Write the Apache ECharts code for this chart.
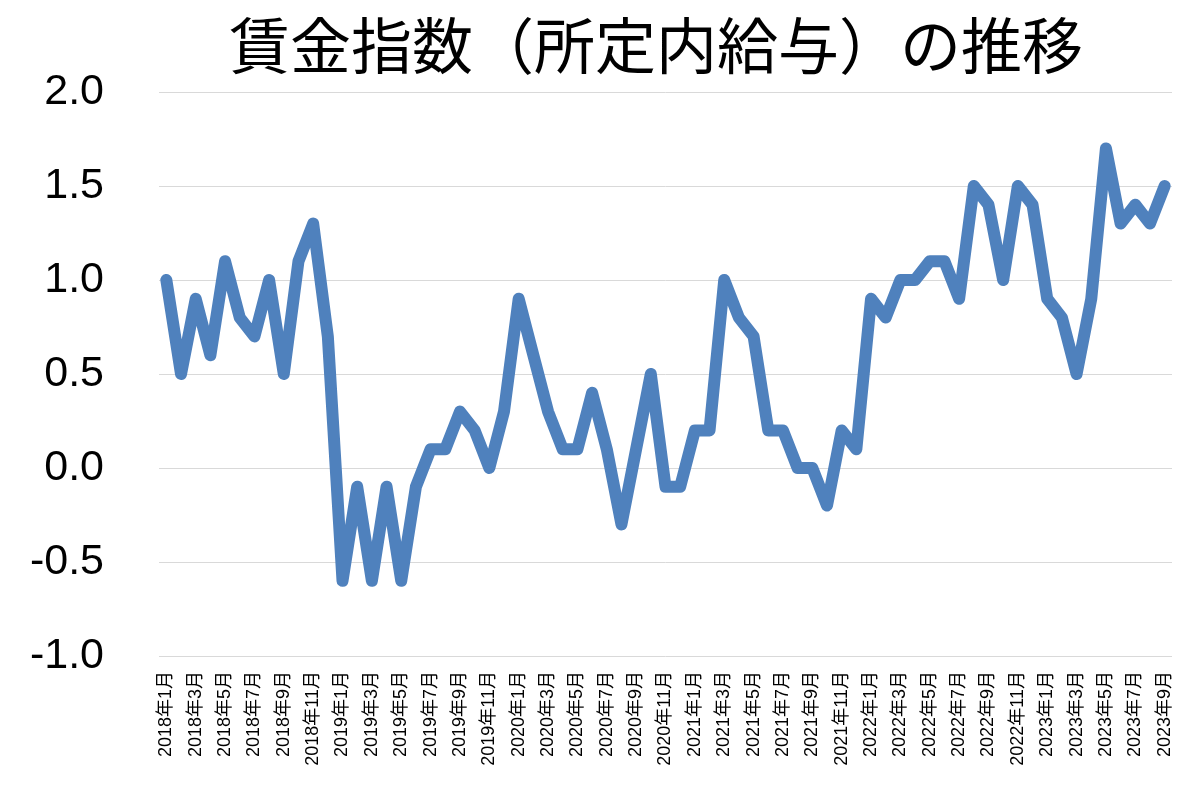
<!DOCTYPE html>
<html>
<head>
<meta charset="utf-8">
<script src="https://cdn.jsdelivr.net/npm/echarts@6/dist/echarts.min.js"></script>
<style>
html,body{margin:0;padding:0;background:#fff;}
#chart{width:1200px;height:792px;}
</style>
</head>
<body>
<div id="chart"></div>
<script>
var titleText = '賃金指数（所定内給与）の推移';
var years = [2018, 2019, 2020, 2021, 2022, 2023];
var categories = [];
years.forEach(function (y) {
  var last = (y === 2023) ? 9 : 12;
  for (var m = 1; m <= last; m++) categories.push(y + '年' + m + '月');
});
var values2018 = [1.0, 0.5, 0.9, 0.6, 1.1, 0.8, 0.7, 1.0, 0.5, 1.1, 1.3, 0.7];
var values2019 = [-0.6, -0.1, -0.6, -0.1, -0.6, -0.1, 0.1, 0.1, 0.3, 0.2, 0.0, 0.3];
var values2020 = [0.9, 0.6, 0.3, 0.1, 0.1, 0.4, 0.1, -0.3, 0.1, 0.5, -0.1, -0.1];
var values2021 = [0.2, 0.2, 1.0, 0.8, 0.7, 0.2, 0.2, 0.0, 0.0, -0.2, 0.2, 0.1];
var values2022 = [0.9, 0.8, 1.0, 1.0, 1.1, 1.1, 0.9, 1.5, 1.4, 1.0, 1.5, 1.4];
var values2023 = [0.9, 0.8, 0.5, 0.9, 1.7, 1.3, 1.4, 1.3, 1.5];
var values = [].concat(values2018, values2019, values2020, values2021, values2022, values2023);
var yMin = -1.0, yMax = 2.0, yInterval = 0.5;

var chart = echarts.init(document.getElementById('chart'));
chart.setOption({
  backgroundColor: '#ffffff',
  animation: false,
  title: {
    text: titleText,
    left: 224,
    top: 10,
    textStyle: {
      fontFamily: '"Noto Sans CJK JP", sans-serif',
      fontSize: 61,
      fontWeight: 'normal',
      color: '#000000'
    }
  },
  grid: { left: 159, right: 28, top: 92, bottom: 136, containLabel: false },
  xAxis: {
    type: 'category',
    data: categories,
    boundaryGap: true,
    axisLine: { show: false },
    axisTick: { show: false },
    axisLabel: {
      interval: 1,
      rotate: 90,
      margin: 15,
      fontSize: 18,
      color: '#000000',
      fontFamily: '"Liberation Sans", Arial, "Noto Sans CJK JP", sans-serif'
    }
  },
  yAxis: {
    type: 'value',
    min: yMin,
    max: yMax,
    interval: yInterval,
    axisLine: { show: false },
    axisTick: { show: false },
    splitLine: { lineStyle: { color: '#d9d9d9', width: 1 } },
    axisLabel: {
      margin: 55,
      fontSize: 43,
      color: '#000000',
      fontFamily: '"Liberation Sans", Arial, sans-serif',
      formatter: function (v) { return v.toFixed(1); }
    }
  },
  series: [{
    type: 'line',
    data: values,
    symbol: 'none',
    lineStyle: { color: '#4f81bd', width: 12, join: 'round', cap: 'round' },
    itemStyle: { color: '#4f81bd' }
  }]
});
</script>
</body>
</html>
